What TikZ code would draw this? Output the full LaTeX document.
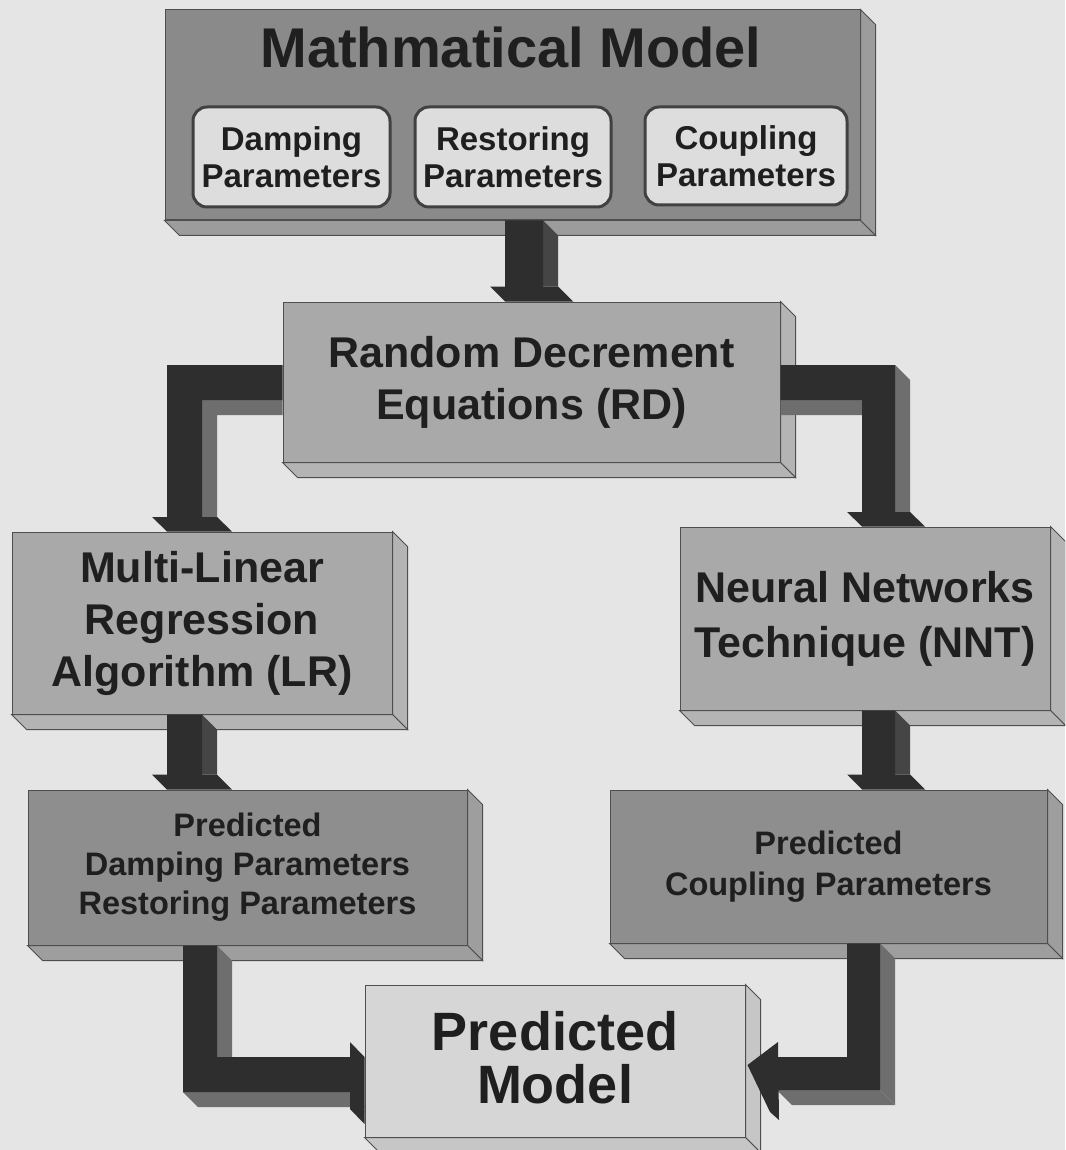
\documentclass[tikz,border=0pt]{standalone}
\usepackage{fontspec}
\setmainfont{Liberation Sans}
\usetikzlibrary{calc}
\definecolor{bg}{HTML}{E5E5E5}
\definecolor{mmfront}{HTML}{8A8A8A}
\definecolor{mmside}{HTML}{9C9C9C}
\definecolor{midfront}{HTML}{A9A9A9}
\definecolor{midside}{HTML}{B4B4B4}
\definecolor{pdfront}{HTML}{8E8E8E}
\definecolor{pdside}{HTML}{9E9E9E}
\definecolor{pmfront}{HTML}{D6D6D6}
\definecolor{pmside}{HTML}{C6C6C6}
\definecolor{innerfill}{HTML}{DDDDDD}
\definecolor{arrfront}{HTML}{2E2E2E}
\definecolor{arrside}{HTML}{6E6E6E}
\definecolor{arrdark}{HTML}{454545}
\definecolor{edgecol}{HTML}{4E4E4E}
\definecolor{ink}{HTML}{1F1F1F}
\tikzset{
  slab/.style={draw=edgecol, line width=1pt, inner sep=0pt, text=ink, align=center},
  innerbox/.style={draw=ink!85, line width=3pt, rounded corners=14pt, fill=innerfill, inner sep=0pt, text=ink, align=center,
     font=\bfseries\fontsize{33}{37}\selectfont},
  bigtext/.style={font=\bfseries\fontsize{43}{52}\selectfont},
  smalltext/.style={font=\bfseries\fontsize{32.5}{39}\selectfont},
  hugetext/.style={font=\bfseries\fontsize{54}{53}\selectfont},
  af/.style={fill=arrfront},
  as/.style={fill=arrside},
  ad/.style={fill=arrdark},
}
% side faces of a slab: node, right colour, bottom colour
\newcommand\slabsides[3]{%
  \filldraw[fill=#2, draw=edgecol, line width=1pt] (#1.north east) -- ++(15,15) -- ($(#1.south east)+(15,15)$) -- (#1.south east) -- cycle;
  \filldraw[fill=#3, draw=edgecol, line width=1pt] (#1.south west) -- (#1.south east) -- ($(#1.south east)+(15,15)$) -- ($(#1.south west)+(15,15)$) -- cycle;}
% straight down arrow: source, target, left x, right x
\newcommand\downarr[4]{%
  \pgfmathsetmacro\xa{#3}\pgfmathsetmacro\xb{#4}%
  \pgfmathsetmacro\xal{#3-15}\pgfmathsetmacro\xbr{#4+15}\pgfmathsetmacro\xbrr{#4+30}%
  \coordinate (dh) at ($(#2.north)+(0,-15)$);
  \fill[ad] (\xb,0 |- #1.south) -- ++(15,15) -- (\xbr,0 |- dh) -- (\xb,0 |- dh) -- cycle;
  \fill[af] (\xa,0 |- #1.south) -- (\xb,0 |- #1.south) -- (\xb,0 |- dh) -- (\xbr,0 |- dh)
     -- (\xbrr,0 |- #2.north) -- (\xa,0 |- #2.north) -- (\xal,0 |- dh) -- (\xa,0 |- dh) -- cycle;}
\begin{document}
\begin{tikzpicture}[x=1pt,y=-1pt]
\useasboundingbox (0,0) rectangle (1065,1150);
\clip (0,0) rectangle (1065,1150);
\fill[bg] (0,0) rectangle (1065,1150);

% Mathematical model
\node[slab, fill=mmfront, minimum width=695, minimum height=210] (mm) at (512.5,115) {};
\slabsides{mm}{mmside}{mmside}
\node[text=ink, font=\bfseries\fontsize{56}{60}\selectfont] (mmtitle) at (511,47) {Mathmatical Model};
\node[innerbox, minimum width=197, minimum height=100] (damp) at (291.5,157) {Damping\\Parameters};
\node[innerbox, minimum width=196, minimum height=100] (rest) at (513,157) {Restoring\\Parameters};
\node[innerbox, minimum width=202, minimum height=98] (coup) at (746,156) {Coupling\\Parameters};

% Random decrement
\node[slab, bigtext, fill=midfront, minimum width=497, minimum height=160] (rd) at (531.5,382) {Random Decrement\\Equations (RD)};
\slabsides{rd}{midside}{midside}

% Multi-linear regression
\node[slab, bigtext, fill=midfront, minimum width=380, minimum height=182] (lr) at (202,623) {Multi-Linear\\Regression\\Algorithm (LR)};
\slabsides{lr}{midside}{midside}

% Neural networks
\node[slab, font=\bfseries\fontsize{43}{55}\selectfont, fill=midfront, minimum width=370, minimum height=183] (nnt) at (865,618.5) {Neural Networks\\Technique (NNT)};
\slabsides{nnt}{midside}{midside}

% Predicted parameters
\node[slab, smalltext, fill=pdfront, minimum width=439, minimum height=155] (pdl) at (247.5,867.5) {Predicted\\Damping Parameters\\Restoring Parameters};
\slabsides{pdl}{pdside}{pdside}
\node[slab, font=\bfseries\fontsize{32.5}{41}\selectfont, fill=pdfront, minimum width=437, minimum height=153] (pdr) at (828.5,866.5) {Predicted\\Coupling Parameters};
\slabsides{pdr}{pdside}{pdside}

% Predicted model
\node[slab, hugetext, fill=pmfront, minimum width=380, minimum height=152] (pm) at (555,1061) {\raisebox{0pt}[\height][0pt]{}Predicted\\Model\rule[-8pt]{0pt}{8pt}};
\slabsides{pm}{pmside}{pmside}

% ---------- connectors ----------
\downarr{mm}{rd}{505}{543}
\downarr{lr}{pdl}{167}{202}
\downarr{nnt}{pdr}{862}{895}

% RD -> LR
\fill[as] (rd.west |- 0,400) -- (202,400) -- (202,517) -- (217,517) -- (217,415) -- (rd.west |- 0,415) -- cycle;
\fill[af] (rd.west |- 0,365) -- (167,365) -- (167,517) -- (152,517) -- (167,0 |- lr.north) -- (232,0 |- lr.north)
   -- (217,517) -- (202,517) -- (202,400) -- (rd.west |- 0,400) -- cycle;

% RD -> NNT
\fill[as] (rd.east |- 0,400) -- (862,400) -- (877,415) -- (rd.east |- 0,415) -- cycle;
\fill[as] (895,365) -- (910,380) -- (910,512) -- (895,512) -- cycle;
\fill[af] (rd.east |- 0,365) -- (895,365) -- (895,512) -- (910,512) -- (925,0 |- nnt.north) -- (862,0 |- nnt.north)
   -- (847,512) -- (862,512) -- (862,400) -- (rd.east |- 0,400) -- cycle;

% PDL -> PM
\fill[as] (217,0 |- pdl.south) -- ++(15,15) -- (232,1057) -- (217,1057) -- cycle;
\fill[as] (183,1092) -- (350,1092) -- (365,1107) -- (198,1107) -- cycle;
\fill[af] (183,0 |- pdl.south) -- (217,0 |- pdl.south) -- (217,1057) -- (350,1057) -- (350,1042)
   -- (pm.west |- 0,1057) -- (pm.west |- 0,1124) -- (350,1109) -- (350,1092) -- (183,1092) -- cycle;

% PDR -> PM
\fill[as] (880,0 |- pdr.south) -- ++(15,15) -- (895,1105) -- (880,1090) -- cycle;
\fill[as] (777,1090) -- (880,1090) -- (895,1105) -- (792,1105) -- cycle;
\coordinate (pmtip) at ($(pm.east)+(2,4)$);
\fill[af] (847,0 |- pdr.south) -- (880,0 |- pdr.south) -- (880,1090) -- (777,1090) -- (777,1057) -- (847,1057) -- cycle;
\fill[af] (778,1042) -- (pmtip) -- (770,1112) -- (779,1120) -- cycle;
\end{tikzpicture}
\end{document}
